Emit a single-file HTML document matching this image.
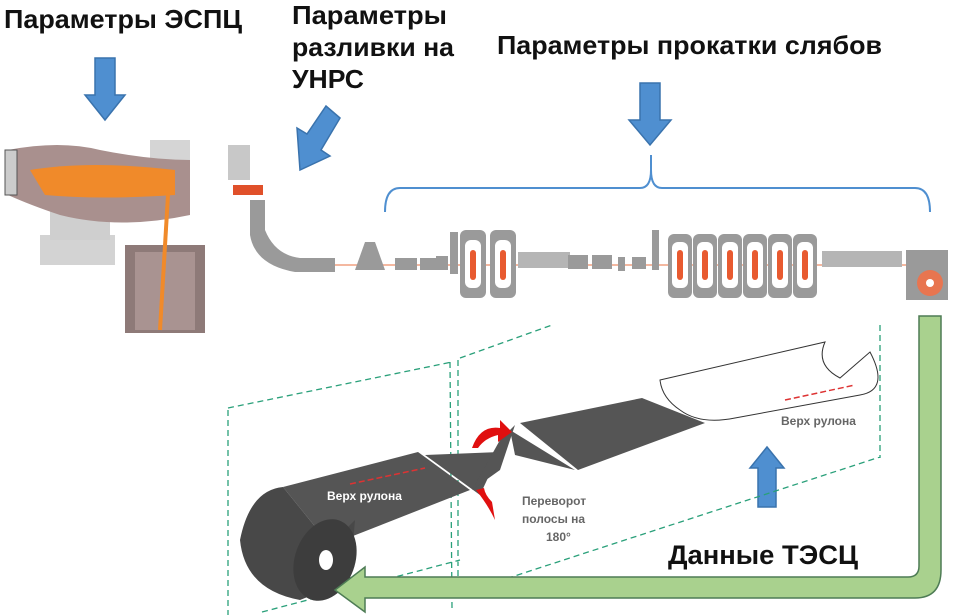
<!DOCTYPE html>
<html><head><meta charset="utf-8"><style>
html,body{margin:0;padding:0;background:#fff;}
svg{display:block;font-family:"Liberation Sans",Arial,sans-serif;}
</style></head><body>
<svg width="957" height="615" viewBox="0 0 957 615" xmlns="http://www.w3.org/2000/svg">
<rect width="957" height="615" fill="#fff"/>
<g font-weight="bold" font-size="26" fill="#111">
<text x="4" y="28" textLength="238" lengthAdjust="spacingAndGlyphs">Параметры ЭСПЦ</text>
<text x="292" y="24" textLength="155" lengthAdjust="spacingAndGlyphs">Параметры</text>
<text x="292" y="56" textLength="162" lengthAdjust="spacingAndGlyphs">разливки на</text>
<text x="292" y="88" textLength="72" lengthAdjust="spacingAndGlyphs">УНРС</text>
<text x="497" y="54" textLength="385" lengthAdjust="spacingAndGlyphs">Параметры прокатки слябов</text>
<text x="668" y="564" font-size="27" textLength="190" lengthAdjust="spacingAndGlyphs">Данные ТЭСЦ</text>
</g>
<g fill="#4f8fd0" stroke="#3a73ad" stroke-width="1.5">
<polygon points="95,58 115,58 115,95 125,95 105,120 85,95 95,95"/>
<polygon points="640,83 660,83 660,120 671,120 650,145 629,120 640,120"/>
<polygon points="758,507 776,507 776,468 784,468 767,447 750,468 758,468"/>
<polygon points="340,118 326,106 307,134 297,128 300,170 330,156 321,150"/>
</g>
<path d="M385,212 Q385,188 400,188 L640,188 Q651,188 651,170 L651,155 M651,170 Q651,188 662,188 L915,188 Q930,188 930,212" fill="none" stroke="#4f8fd0" stroke-width="2"/>
<g>
<rect x="40" y="235" width="75" height="30" fill="#d3d3d3"/>
<rect x="50" y="205" width="60" height="35" fill="#cfcfcf"/>
<rect x="150" y="140" width="40" height="60" fill="#d5d5d5"/>
<path d="M8,150 Q60,140 100,150 Q150,160 190,160 L190,215 Q120,230 60,215 Q30,205 8,195 Z" fill="#a9908e"/>
<path d="M30,170 Q90,160 175,170 L175,195 Q100,200 45,195 Z" fill="#f08a2a"/>
<rect x="5" y="150" width="12" height="45" fill="#ccc" stroke="#555"/>
<rect x="125" y="245" width="80" height="88" fill="#8e7a78"/>
<rect x="135" y="252" width="60" height="78" fill="#a99391"/>
<path d="M168,195 L160,330" stroke="#f08a2a" stroke-width="4"/>
</g>
<g fill="#9a9a9a">
<rect x="228" y="145" width="22" height="35" fill="#c8c8c8"/>
<rect x="233" y="185" width="30" height="10" fill="#e0502a"/>
<path d="M250,200 L265,200 L265,230 Q275,255 300,258 L335,258 L335,272 L295,272 Q255,265 250,235 Z"/>
</g>
<line x1="335" y1="265" x2="925" y2="265" stroke="#f0a080" stroke-width="1.5"/>
<g fill="#9a9a9a">
<path d="M355,270 L365,242 L375,242 L385,270 Z"/>
<rect x="395" y="258" width="22" height="12"/><rect x="420" y="258" width="22" height="12"/>
<rect x="436" y="256" width="12" height="14"/>
<rect x="450" y="232" width="8" height="42"/>
<rect x="460" y="230" width="26" height="68" rx="6"/>
<rect x="490" y="230" width="26" height="68" rx="6"/>
<rect x="518" y="252" width="52" height="16" fill="#b5b5b5"/>
<rect x="568" y="255" width="20" height="14"/><rect x="592" y="255" width="20" height="14"/>
<rect x="618" y="257" width="7" height="14"/><rect x="632" y="257" width="14" height="12"/>
<rect x="652" y="230" width="7" height="40"/>
<rect x="668" y="234" width="24" height="64" rx="6"/>
<rect x="693" y="234" width="24" height="64" rx="6"/>
<rect x="718" y="234" width="24" height="64" rx="6"/>
<rect x="743" y="234" width="24" height="64" rx="6"/>
<rect x="768" y="234" width="24" height="64" rx="6"/>
<rect x="793" y="234" width="24" height="64" rx="6"/>
<rect x="822" y="251" width="80" height="16" fill="#b5b5b5"/>
<rect x="906" y="250" width="42" height="50"/>
</g>
<g fill="#fff"><rect x="465" y="240" width="16" height="48" rx="6"/><rect x="495" y="240" width="16" height="48" rx="6"/>
<rect x="672" y="242" width="16" height="46" rx="6"/><rect x="697" y="242" width="16" height="46" rx="6"/><rect x="722" y="242" width="16" height="46" rx="6"/><rect x="747" y="242" width="16" height="46" rx="6"/><rect x="772" y="242" width="16" height="46" rx="6"/><rect x="797" y="242" width="16" height="46" rx="6"/></g>
<g fill="#e85a30"><rect x="470" y="250" width="6" height="30" rx="3"/><rect x="500" y="250" width="6" height="30" rx="3"/>
<rect x="677" y="250" width="6" height="30" rx="3"/><rect x="702" y="250" width="6" height="30" rx="3"/><rect x="727" y="250" width="6" height="30" rx="3"/><rect x="752" y="250" width="6" height="30" rx="3"/><rect x="777" y="250" width="6" height="30" rx="3"/><rect x="802" y="250" width="6" height="30" rx="3"/>
<circle cx="930" cy="283" r="13" fill="#e87550"/><circle cx="930" cy="283" r="4" fill="#fff"/></g>
<g fill="none" stroke="#2aa07a" stroke-width="1.3" stroke-dasharray="6,4">
<path d="M228,410 L228,615 M228,408 L452,362 M450,362 L452,608 M458,360 L458,595 M460,358 L552,325 M880,325 L880,458 M450,597 L880,457 M262,612 L460,560"/>
</g>
<g fill="#555">
<path d="M283,487 L418,452 L470,490 L330,545 Z"/>
<polygon points="425,455 500,452 480,495"/>
<polygon points="472,490 500,440 515,425 500,470"/>
<polygon points="510,430 575,470 515,455"/>
<path d="M520,423 L642,398 L705,423 L578,470 Z"/>
<path d="M283,487 Q250,490 240,540 Q245,590 300,600 L350,580 L355,520 L330,545 Z" fill="#484848"/>
<ellipse cx="325" cy="560" rx="30" ry="42" fill="#3d3d3d" transform="rotate(20 325 560)"/>
<ellipse cx="326" cy="560" rx="7" ry="10" fill="#fff"/>
</g>
<path d="M660,380 L825,342 Q815,365 840,378 L870,352 Q890,390 860,395 L735,418 Q700,425 680,410 Q662,398 660,380 Z" fill="#fff" stroke="#333" stroke-width="1"/>
<line x1="785" y1="400" x2="855" y2="385" stroke="#d33" stroke-width="1.5" stroke-dasharray="6,3"/>
<line x1="350" y1="484" x2="425" y2="468" stroke="#d33" stroke-width="1.5" stroke-dasharray="6,3"/>
<path d="M472,448 Q480,425 500,428 L500,420 L512,432 L498,442 L498,435 Q485,438 478,448 Z" fill="#e01010"/>
<path d="M476,490 Q488,505 495,520 L492,502 Q485,495 484,488 Z" fill="#e01010"/>
<g font-weight="bold" font-size="12">
<text x="327" y="500" fill="#fff">Верх рулона</text>
<text x="781" y="425" fill="#666">Верх рулона</text>
<text x="522" y="505" fill="#666">Переворот</text>
<text x="522" y="523" fill="#666">полосы на</text>
<text x="546" y="541" fill="#666">180°</text>
</g>
<path d="M919,316 L941,316 L941,570 Q941,598 915,598 L365,598 L365,612 L335,590 L365,567 L365,577 L908,577 Q919,577 919,566 Z" fill="#a9d18e" stroke="#4e7c55" stroke-width="1.5"/>
</svg>
</body></html>
